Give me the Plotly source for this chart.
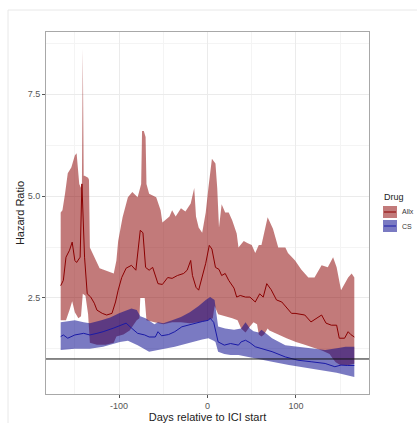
import plotly.graph_objects as go

# ---------------- data ----------------
ALLX_UP_DAYS = [-166, -164, -161, -158, -154, -150, -148, -146, -145, -143, -142, -141, -140, -139, -135, -134,
                -133, -122, -115, -106, -103, -101, -96, -90, -85, -79, -75, -74, -72, -70, -69, -66, -58, -53,
                -51, -43, -40, -36, -30, -25, -19, -15, -13, -10, -6, -2, 1, 5, 9, 11, 13, 16, 20, 24, 28, 33,
                35, 41, 45, 50, 54, 58, 61, 68, 74, 80, 88, 91, 99, 106, 114, 121, 129, 136, 142, 146, 151,
                159, 163, 166]
ALLX_UP = [4.6, 4.65, 5.07, 5.56, 5.7, 6.0, 6.05, 5.38, 5.3, 5.2, 5.3, 8.62, 5.5, 5.5, 5.45, 5.4,
           3.74, 3.23, 3.18, 3.1, 3.42, 3.9, 4.48, 4.97, 5.1, 4.97, 5.3, 6.6, 6.6, 6.45, 5.3, 5.06, 4.97, 4.65,
           4.35, 4.5, 4.65, 4.5, 4.7, 4.62, 4.82, 5.2, 4.5, 4.23, 4.1, 4.6, 5.2, 5.92, 5.8, 5.2, 4.23, 4.8,
           4.6, 4.6, 4.4, 4.08, 3.74, 3.9, 3.85, 3.8, 3.6, 3.8, 3.8, 4.48, 4.2, 3.74, 3.74, 3.6, 3.42, 3.2,
           3.0, 3.0, 3.3, 3.25, 3.5, 3.25, 2.69, 3.0, 3.1, 3.0]

ALLX_MEAN_DAYS = [-166, -163, -160, -156, -153, -150, -148, -144, -142, -140, -139, -136, -132, -128, -125,
                  -119, -114, -108, -104, -101, -97, -92, -86, -81, -78, -76, -73, -70, -66, -62, -56, -51,
                  -45, -40, -34, -27, -23, -19, -17, -13, -10, -6, -2, 2, 5, 9, 13, 16, 20, 24, 30, 33, 37,
                  43, 48, 54, 59, 63, 67, 72, 78, 84, 89, 95, 99, 110, 117, 129, 134, 140, 146, 149, 155,
                  159, 162, 166]
ALLX_MEAN = [2.8, 2.93, 3.5, 3.67, 3.87, 3.42, 3.37, 3.5, 5.3, 4.2, 3.5, 2.6, 2.52, 2.37, 2.2,
             2.12, 2.08, 2.12, 2.4, 2.69, 3.0, 3.23, 3.3, 3.18, 3.84, 4.16, 4.1, 3.25, 3.18, 3.25, 2.85, 2.83,
             3.0, 2.98, 3.05, 3.1, 3.18, 3.42, 3.05, 2.76, 2.69, 3.0, 3.35, 3.79, 3.7, 3.25, 3.2, 3.05, 3.1,
             2.93, 2.74, 2.52, 2.56, 2.52, 2.52, 2.4, 2.6, 2.52, 2.85, 2.7, 2.45, 2.4, 2.27, 2.12, 2.12,
             2.08, 1.91, 2.08, 1.88, 1.83, 1.83, 1.51, 1.51, 1.67, 1.6, 1.54]

ALLX_LOW_DAYS = [-166, -160, -156, -153, -150, -146, -143, -141, -138, -135, -133, -125, -115, -106, -103,
                 -95, -88, -80, -77, -76, -71, -69, -60, -50, -40, -30, -20, -10, 0, 6, 8, 12, 20, 28, 34,
                 38, 43, 48, 52, 56, 58, 61, 64, 68, 70, 80, 90, 100, 110, 120, 130, 138, 142, 145, 150,
                 160, 166]
ALLX_LOW = [1.95, 1.95, 2.2, 2.42, 2.15, 2.0, 2.05, 2.6, 2.55, 2.1, 1.4, 1.35, 1.35, 1.4, 1.55,
            1.6, 1.7, 1.95, 2.0, 2.5, 2.5, 1.95, 1.9, 1.85, 1.9, 1.9, 1.88, 1.9, 1.95, 2.0, 2.3, 2.1, 2.05,
            2.0, 1.95, 1.75, 1.65, 1.8, 1.9, 1.85, 1.6, 1.55, 1.6, 1.75, 1.7, 1.6, 1.5, 1.42, 1.35, 1.28,
            1.2, 1.12, 1.0, 0.92, 0.85, 0.85, 0.88]

CS_UP_DAYS = [-166, -160, -150, -140, -133, -120, -110, -100, -92, -86, -80, -76, -70, -60, -56, -50, -40,
              -30, -20, -10, -2, 3, 8, 10, 12, 20, 30, 38, 43, 48, 52, 58, 61, 65, 73, 88, 102, 118, 133,
              148, 156, 166]
CS_UP = [1.9, 1.92, 1.95, 1.9, 1.88, 1.95, 2.02, 2.12, 2.2, 2.24, 2.2, 2.05, 2.0, 1.85, 1.9, 1.88, 1.95,
         2.03, 2.15, 2.3, 2.45, 2.52, 2.45, 2.1, 1.8, 1.75, 1.72, 1.75, 1.9, 1.75, 1.68, 1.65, 1.72, 1.65,
         1.51, 1.34, 1.3, 1.27, 1.22, 1.27, 1.3, 1.3]

CS_MEAN_DAYS = [-166, -163, -158, -150, -140, -133, -125, -118, -106, -99, -92, -86, -79, -71, -66, -59,
                -56, -52, -44, -37, -29, -22, -14, -6, 1, 3, 7, 9, 12, 19, 26, 35, 38, 43, 48, 54, 65, 73,
                88, 102, 118, 133, 144, 151, 158, 164, 166]
CS_MEAN = [1.55, 1.59, 1.51, 1.59, 1.63, 1.59, 1.63, 1.67, 1.76, 1.83, 1.88, 1.76, 1.63, 1.59, 1.54, 1.54,
           1.67, 1.57, 1.6, 1.67, 1.79, 1.83, 1.88, 1.92, 1.95, 2.0, 1.9, 1.67, 1.42, 1.34, 1.38, 1.34, 1.42,
           1.46, 1.4, 1.3, 1.22, 1.18, 1.05, 0.97, 0.93, 0.89, 0.81, 0.85, 0.84, 0.85, 0.84]

CS_LOW_DAYS = [-166, -150, -133, -118, -99, -90, -79, -66, -56, -37, -22, -6, 1, 7, 9, 12, 19, 26, 35, 43,
               54, 73, 92, 110, 128, 146, 166]
CS_LOW = [1.22, 1.25, 1.25, 1.3, 1.42, 1.45, 1.34, 1.18, 1.22, 1.3, 1.39, 1.48, 1.51, 1.45, 1.42, 1.18,
          1.12, 1.1, 1.1, 1.08, 1.02, 0.93, 0.85, 0.78, 0.72, 0.66, 0.56]

X_TICKS = [-100, 0, 100]
X_TICK_LABELS = ["-100", "0", "100"]
Y_TICKS = [2.5, 5.0, 7.5]
Y_TICK_LABELS = ["2.5", "5.0", "7.5"]
DRUGS = ["Allx", "CS"]
REF_HR = 1.0

RED_FILL = "rgba(139,0,0,0.52)"
BLUE_FILL = "rgba(0,0,139,0.52)"
RED_LINE = "#8B0000"
BLUE_LINE = "#1a1aa6"

fig = go.Figure()

def ribbon(up_d, up, lo_d, lo, color, name):
    fig.add_trace(go.Scatter(
        x=list(up_d) + list(lo_d)[::-1],
        y=list(up) + list(lo)[::-1],
        fill="toself", fillcolor=color, line=dict(width=0),
        mode="lines", name=name, showlegend=False, hoverinfo="skip"))

ribbon(ALLX_UP_DAYS, ALLX_UP, ALLX_LOW_DAYS, ALLX_LOW, RED_FILL, DRUGS[0])
ribbon(CS_UP_DAYS, CS_UP, CS_LOW_DAYS, CS_LOW, BLUE_FILL, DRUGS[1])

fig.add_trace(go.Scatter(x=ALLX_MEAN_DAYS, y=ALLX_MEAN, mode="lines",
                         line=dict(color=RED_LINE, width=1), showlegend=False))
fig.add_trace(go.Scatter(x=CS_MEAN_DAYS, y=CS_MEAN, mode="lines",
                         line=dict(color=BLUE_LINE, width=1), showlegend=False))

fig.add_hline(y=REF_HR, line=dict(color="#111111", width=1))

L, R, T, B = 46, 48, 32, 29
W, H = 417, 423
PW, PH = W - L - R, H - T - B

def px(x):
    return (x - L) / PW

def py(y):
    return (H - B - y) / PH

# outer faint frame
fig.add_shape(type="rect", xref="paper", yref="paper",
              x0=px(8), x1=px(430), y0=py(440), y1=py(10),
              line=dict(color="#e8e8e8", width=1), layer="below")

# custom legend (ggplot style)
fig.add_annotation(xref="paper", yref="paper", x=px(382), y=py(197), text="Drug",
                   showarrow=False, xanchor="left", yanchor="middle",
                   font=dict(size=9, color="#222222"))
for i, (nm, fc, lc) in enumerate([(DRUGS[0], RED_FILL, RED_LINE), (DRUGS[1], BLUE_FILL, BLUE_LINE)]):
    cy = 212 + i * 14
    fig.add_shape(type="rect", xref="paper", yref="paper",
                  x0=px(383), x1=px(397), y0=py(cy + 6), y1=py(cy - 6),
                  fillcolor=fc, line=dict(width=0))
    fig.add_shape(type="line", xref="paper", yref="paper",
                  x0=px(384), x1=px(396), y0=py(cy), y1=py(cy),
                  line=dict(color=lc, width=1))
    fig.add_annotation(xref="paper", yref="paper", x=px(400), y=py(cy), text=nm,
                       showarrow=False, xanchor="left", yanchor="middle",
                       font=dict(size=7, color="#333333"))

axis_common = dict(
    showline=True, mirror=True, linecolor="#a8a8a8", linewidth=1,
    ticks="outside", ticklen=3, tickcolor="#555555", tickwidth=1,
    tickfont=dict(size=9, color="#555555"),
    showgrid=True, gridcolor="#ebebeb", gridwidth=1, zeroline=False, automargin=False,
)

fig.update_layout(
    width=W, height=H,
    margin=dict(l=L, r=R, t=T, b=B, autoexpand=False),
    paper_bgcolor="white", plot_bgcolor="white",
    font=dict(family="Liberation Sans, Arial, sans-serif"),
    showlegend=False,
    xaxis=dict(range=[-182.6, 182.6], tickmode="array", tickvals=X_TICKS, ticktext=X_TICK_LABELS,
               title=dict(text="Days relative to ICI start", font=dict(size=11, color="#222222"), standoff=2),
               minor=dict(tickmode="array", tickvals=[-150, -50, 50, 150], showgrid=True,
                          gridcolor="#f4f4f4", ticks=""),
               **axis_common),
    yaxis=dict(range=[0.14, 9.03], tickmode="array", tickvals=Y_TICKS, ticktext=Y_TICK_LABELS,
               title=dict(text="Hazard Ratio", font=dict(size=11, color="#222222"), standoff=0),
               minor=dict(tickmode="array", tickvals=[1.25, 3.75, 6.25, 8.75], showgrid=True,
                          gridcolor="#f4f4f4", ticks=""),
               **axis_common),
)

fig.write_html("out.html", config={"displayModeBar": False},
               post_script="document.body.style.margin='0';document.body.style.overflow='hidden';")
